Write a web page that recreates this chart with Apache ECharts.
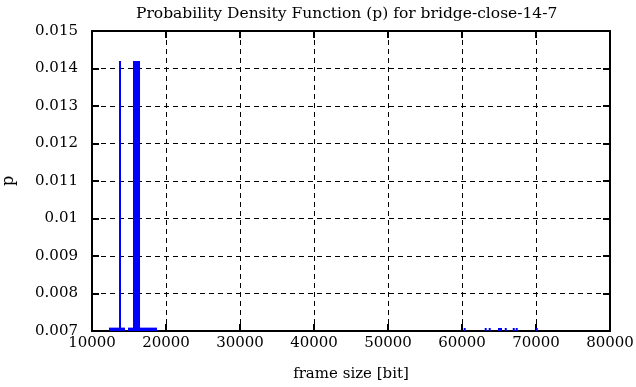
<!DOCTYPE html>
<html><head><meta charset="utf-8">
<script src="https://cdn.jsdelivr.net/npm/echarts@6/dist/echarts.min.js"></script>
<style>html,body{margin:0;padding:0;background:#fff}#c{width:636px;height:387px}</style>
</head><body><div id="c"></div>
<script>
// frame-size bins (bit) and their probability density p
const binStart = [12300, 13720, 14865, 15540, 60330, 63170, 63710, 64865, 65880, 66960, 67360, 70070];
const binEnd   = [14460, 13850, 18785, 16490, 60400, 63240, 63780, 65405, 65950, 67030, 67430, 70140];
const probability = [0.00709, 0.0142, 0.00709, 0.0142, 0.00708, 0.00708, 0.00708, 0.00708, 0.00708, 0.00708, 0.00708, 0.00708];
const xTicks = [10000, 20000, 30000, 40000, 50000, 60000, 70000, 80000];
const yTicks = [0.007, 0.008, 0.009, 0.01, 0.011, 0.012, 0.013, 0.014, 0.015];

const FONT = 'DejaVu Serif';
const data = binStart.map((s, i) => [s, binEnd[i], probability[i]]);
const chart = echarts.init(document.getElementById('c'), null, {renderer: 'canvas'});
const axisLine = {show: true, lineStyle: {color: '#000', width: 2}};
const tick = {show: true, inside: true, length: 7, lineStyle: {color: '#000', width: 2}};
const grid = {show: true, lineStyle: {color: '#000', width: 1, type: [5, 4]}};
chart.setOption({
  animation: false,
  title: {text: 'Probability Density Function (p) for bridge-close-14-7', left: 131, top: 1,
    textStyle: {fontFamily: FONT, fontWeight: 'normal', fontSize: 15.5, color: '#000'}},
  grid: {left: 92, right: 26, top: 31, bottom: 56, show: false, containLabel: false, outerBoundsMode: 'none'},
  xAxis: [{
    type: 'value', min: xTicks[0], max: xTicks[xTicks.length - 1], interval: 10000,
    name: 'frame size [bit]', nameLocation: 'middle', nameGap: 36,
    nameTextStyle: {fontFamily: FONT, fontSize: 15, color: '#000'},
    axisLine, axisTick: tick, splitLine: grid,
    axisLabel: {fontFamily: FONT, fontSize: 15, color: '#000', margin: 5, formatter: v => String(v)}
  }, {
    type: 'value', position: 'top', min: xTicks[0], max: xTicks[xTicks.length - 1], interval: 10000,
    axisLine, axisTick: tick, splitLine: {show: false}, axisLabel: {show: false}
  }],
  yAxis: [{
    type: 'value', min: yTicks[0], max: yTicks[yTicks.length - 1], interval: 0.001,
    name: 'p', nameLocation: 'middle', nameGap: 75, nameRotate: 90,
    nameTextStyle: {fontFamily: FONT, fontSize: 16, color: '#000'},
    axisLine, axisTick: tick, splitLine: grid,
    axisLabel: {fontFamily: FONT, fontSize: 15, color: '#000', margin: 14,
      formatter: v => String(parseFloat(v.toFixed(3)))}
  }, {
    type: 'value', position: 'right', min: yTicks[0], max: yTicks[yTicks.length - 1], interval: 0.001,
    axisLine, axisTick: tick, splitLine: {show: false}, axisLabel: {show: false}
  }],
  series: [{
    type: 'custom',
    clip: true,
    data: data,
    encode: {x: [0, 1], y: 2},
    renderItem: (params, api) => {
      const p0 = api.coord([api.value(0), yTicks[0]]);
      const p1 = api.coord([api.value(1), api.value(2)]);
      let x0 = p0[0], w = p1[0] - p0[0];
      if (w < 2) { x0 = (p0[0] + p1[0]) / 2 - 1; w = 2; }
      const shape = echarts.graphic.clipRectByRect({x: x0, y: p1[1], width: w, height: p0[1] - p1[1]}, {
        x: params.coordSys.x, y: params.coordSys.y, width: params.coordSys.width, height: params.coordSys.height});
      return shape && {type: 'rect', shape, style: {fill: '#0000ff'}};
    }
  }]
});
</script></body></html>
